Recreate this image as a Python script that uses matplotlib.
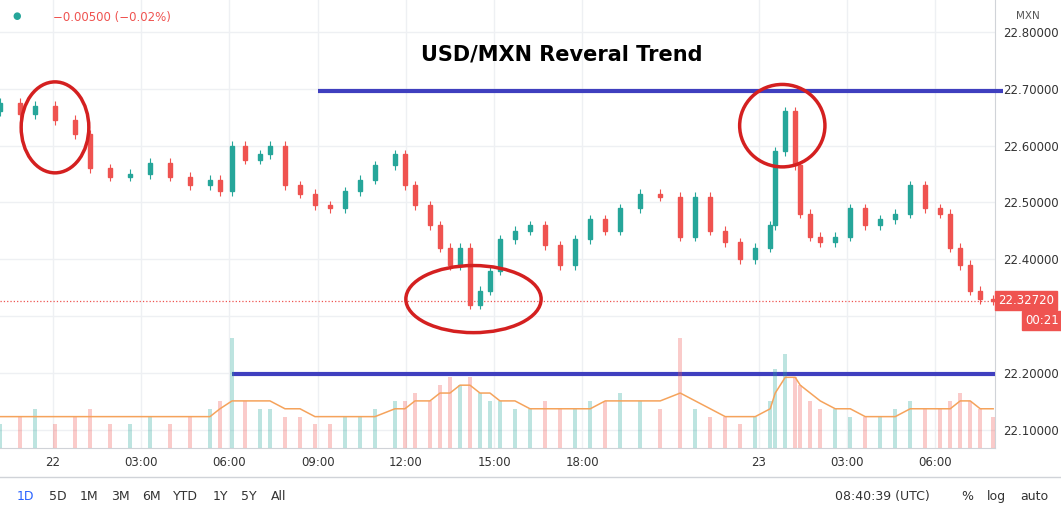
import matplotlib.pyplot as plt
import numpy as np
from matplotlib.patches import Ellipse, Rectangle

# hours from 22nd 00:00, close price at each candle
hours = [-1.8, -1.12, -0.61, 0.07, 0.75, 1.26, 1.94, 2.62, 3.3, 3.98, 4.66, 5.34, 5.68, 6.09,
         6.53, 7.04, 7.38, 7.89, 8.4, 8.91, 9.42, 9.93, 10.44, 10.95, 11.63, 11.97, 12.31,
         12.82, 13.16, 13.5, 13.84, 14.18, 14.52, 14.86, 15.2, 15.71, 16.22, 16.73, 17.24,
         17.76, 18.27, 18.78, 19.29, 19.97, 20.65, 21.33, 21.84, 22.35, 22.86, 23.37, 23.88,
         24.39, 24.56, 24.9, 25.24, 25.41, 25.75, 26.09, 26.6, 27.11, 27.62, 28.13, 28.64,
         29.15, 29.66, 30.17, 30.51, 30.85, 31.19, 31.53, 31.97]
opens0 = 22.66
closes = [22.675, 22.655, 22.67, 22.645, 22.62, 22.56, 22.545, 22.55, 22.57, 22.545, 22.53,
          22.54, 22.52, 22.60, 22.575, 22.585, 22.60, 22.53, 22.515, 22.495, 22.49, 22.52,
          22.54, 22.565, 22.585, 22.53, 22.495, 22.46, 22.42, 22.39, 22.42, 22.32, 22.345,
          22.38, 22.435, 22.45, 22.46, 22.425, 22.39, 22.435, 22.47, 22.45, 22.49, 22.515,
          22.51, 22.44, 22.51, 22.45, 22.43, 22.40, 22.42, 22.46, 22.59, 22.66, 22.565,
          22.48, 22.44, 22.43, 22.44, 22.49, 22.46, 22.47, 22.48, 22.53, 22.49, 22.48,
          22.42, 22.39, 22.345, 22.33, 22.3272]
volumes = [3, 4, 5, 3, 4, 5, 3, 3, 4, 3, 4, 5, 6, 14, 6, 5, 5, 4, 4, 3, 3, 4, 4, 5, 6, 6,
           7, 6, 8, 9, 8, 9, 7, 6, 6, 5, 5, 6, 5, 5, 6, 6, 7, 6, 5, 14, 5, 4, 4, 3, 4, 6,
           10, 12, 9, 8, 6, 5, 5, 4, 4, 4, 5, 6, 5, 5, 6, 7, 6, 5, 4]
vol_ma = [4, 4, 4, 4, 4, 4, 4, 4, 4, 4, 4, 4, 5, 6, 6, 6, 6, 5, 5, 4, 4, 4, 4, 4, 5, 5,
          6, 6, 7, 7, 8, 8, 7, 7, 6, 6, 5, 5, 5, 5, 5, 6, 6, 6, 6, 7, 6, 5, 4, 4, 4, 5,
          7, 9, 9, 8, 7, 6, 5, 5, 4, 4, 4, 5, 5, 5, 5, 6, 6, 5, 5]
xticks = [0, 3, 6, 9, 12, 15, 18, 24, 27, 30]
xlabels = ['22', '03:00', '06:00', '09:00', '12:00', '15:00', '18:00', '23', '03:00', '06:00']
yticks = [22.1, 22.2, 22.3, 22.4, 22.5, 22.6, 22.7, 22.8]

up, dn = '#26a69a', '#ef5350'
fig = plt.figure(figsize=(10.61, 5.18), dpi=100)
ax = fig.add_axes([0, 0.135, 0.938, 0.865])
ax.set_xlim(-1.8, 32.04)
ax.set_ylim(22.068, 22.856)

opens = [opens0] + closes[:-1]

# volume panel
vax = ax.twinx()
vax.set_ylim(0, 57)
vax.set_axis_off()
vcol = [up if c >= o else dn for o, c in zip(opens, closes)]
vax.bar(hours, volumes, width=0.12, color=vcol, alpha=0.3)
vax.plot(hours, vol_ma, color='#f5a35c', lw=1.1)

for h, o, c in zip(hours, opens, closes):
    col = up if c >= o else dn
    ax.vlines(h, min(o, c) - 0.008, max(o, c) + 0.008, color=col, lw=0.8, zorder=3)
    ax.add_patch(Rectangle((h - 0.06, min(o, c)), 0.12, max(abs(c - o), 0.002),
                           color=col, zorder=3))

ax.yaxis.tick_right()
ax.set_yticks(yticks)
# the 22.3 label is hidden behind the countdown box in the reference
ax.set_yticklabels(['' if v == 22.3 else f'{v:.5f}' for v in yticks], fontsize=8.5, color='#333')
ax.set_xticks(xticks)
ax.set_xticklabels(xlabels, fontsize=8.5, color='#333')
ax.tick_params(length=0, pad=6)
ax.grid(color='#eef0f3', lw=1)
for s in ax.spines.values():
    s.set_color('#d0d3d8')
ax.spines['top'].set_visible(False)
ax.spines['left'].set_visible(False)

last = closes[-1]
ax.axhline(last, color=dn, ls=':', lw=0.9)
ax.text(1.003, last, f'{last:.5f}', transform=ax.get_yaxis_transform(), va='center',
        color='white', fontsize=8.5, bbox=dict(fc=dn, ec=dn, pad=2))
ax.text(1.03, last - 0.035, '00:21', transform=ax.get_yaxis_transform(), va='center',
        color='white', fontsize=8.5, bbox=dict(fc=dn, ec=dn, pad=2))

# annotations
ax.hlines(22.696, 9.0, 32.3, color='#3f3fbf', lw=3, clip_on=False, zorder=4)
ax.hlines(22.199, 6.1, 32.04, color='#3f3fbf', lw=3, zorder=4)
ax.text(17.3, 22.75, 'USD/MXN Reveral Trend', fontsize=15, fontweight='bold', ha='center')
for cx, cy, w, hgt in [(0.07, 22.632, 2.3, 0.16), (14.3, 22.33, 4.6, 0.118),
                       (24.8, 22.635, 2.9, 0.145)]:
    ax.add_patch(Ellipse((cx, cy), w, hgt, fill=False, ec='#d42020', lw=2.5, zorder=5))

fig.text(0.012, 0.963, '●', color='#26a69a', fontsize=7)
fig.text(0.05, 0.96, '−0.00500 (−0.02%)', color=dn, fontsize=8.5)
fig.text(0.958, 0.963, 'MXN', color='#555', fontsize=7.5)
fig.add_artist(plt.Line2D([0, 1], [0.08, 0.08], color='#d0d3d8', lw=1))
tb = ['1D', '5D', '1M', '3M', '6M', 'YTD', '1Y', '5Y', 'All']
tx = [0.016, 0.046, 0.075, 0.105, 0.134, 0.163, 0.2, 0.227, 0.255]
for t, x in zip(tb, tx):
    fig.text(x, 0.035, t, fontsize=9, color='#2962ff' if t == '1D' else '#333')
fig.text(0.787, 0.035, '08:40:39 (UTC)', fontsize=9, color='#333')
fig.text(0.906, 0.035, '%', fontsize=9, color='#333')
fig.text(0.93, 0.035, 'log', fontsize=9, color='#333')
fig.text(0.962, 0.035, 'auto', fontsize=9, color='#333')
fig.savefig('out.png', dpi=100)
